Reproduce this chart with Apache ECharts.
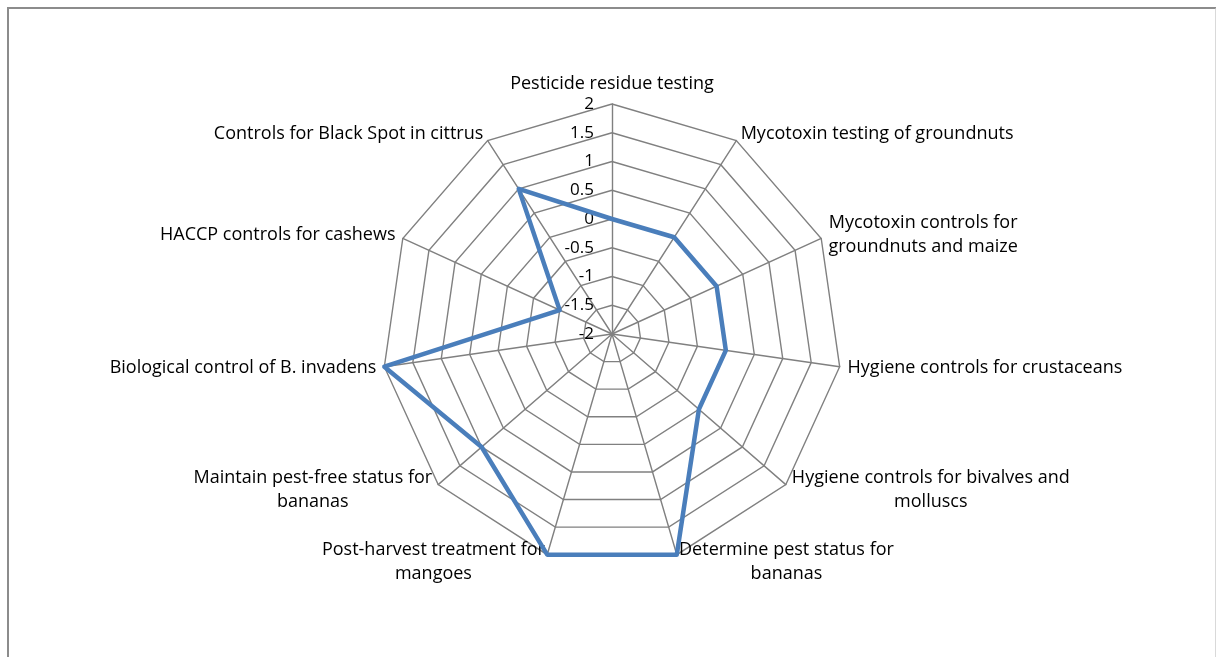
<!DOCTYPE html>
<html>
<head>
<meta charset="utf-8">
<script src="https://cdn.jsdelivr.net/npm/echarts@6/dist/echarts.min.js"></script>
<style>
  html, body { margin: 0; padding: 0; background: #fff; }
  .frame {
    position: absolute;
    left: 7px;
    top: 7px;
    width: 1206px;
    height: 700px;
    border: 2px solid #8c8c8c;
    border-right-color: #d9d9d9;
  }
  #chart { position: absolute; left: 0; top: 0; width: 1216px; height: 657px; }
</style>
</head>
<body>
<div class="frame"></div>
<div id="chart"></div>
<script>
// indicator names (clockwise from top)
const indicators = [
  'Pesticide residue testing',
  'Mycotoxin testing of groundnuts',
  'Mycotoxin controls for\ngroundnuts and maize',
  'Hygiene controls for crustaceans',
  'Hygiene controls for bivalves and\nmolluscs',
  'Determine pest status for\nbananas',
  'Post-harvest treatment for\nmangoes',
  'Maintain pest-free status for\nbananas',
  'Biological control of B. invadens',
  'HACCP controls for cashews',
  'Controls for Black Spot in cittrus'
]
const scores = [0, 0, 0, 0, 0, 2, 2, 1, 2, -1, 1]
const axisMin = -2
const axisMax = 2

const font = '"Open Sans", sans-serif'

// echarts 的雷达图是逆时针排列的，这里把顺序翻过来（第一个保持在顶部）
const order = [0].concat(indicators.map((_, i) => i).slice(1).reverse())

const myChart = echarts.init(document.getElementById('chart'))
myChart.setOption({
  animation: false,
  radar: {
    center: [612, 334],
    radius: 230,
    startAngle: 90,
    shape: 'polygon',
    splitNumber: 8,
    // 只在第一个轴上显示刻度标签
    indicator: order.map((k, i) => ({
      name: indicators[k],
      min: axisMin,
      max: axisMax,
      axisLabel: { show: i === 0 }
    })),
    nameGap: 8,
    axisName: {
      color: '#000',
      fontFamily: font,
      fontSize: 18,
      lineHeight: 24,
      formatter: (v) => v.split('\n').map(s => '{c|' + s + '}').join('\n'),
      rich: {
        c: { align: 'center', color: '#000', fontFamily: font, fontSize: 18, lineHeight: 24 }
      }
    },
    axisLine: { lineStyle: { color: '#808080', width: 1.4 } },
    splitLine: { lineStyle: { color: '#808080', width: 1.4 } },
    splitArea: { show: false },
    axisTick: { show: false },
    axisLabel: {
      show: false,
      color: '#000',
      fontFamily: font,
      fontSize: 17,
      margin: 18
    }
  },
  series: [
    {
      type: 'radar',
      symbol: 'none',
      lineStyle: { color: '#4a7ebb', width: 4.5 },
      data: [{ value: order.map(k => scores[k]), name: 'Score' }]
    }
  ]
})
</script>
</body>
</html>
